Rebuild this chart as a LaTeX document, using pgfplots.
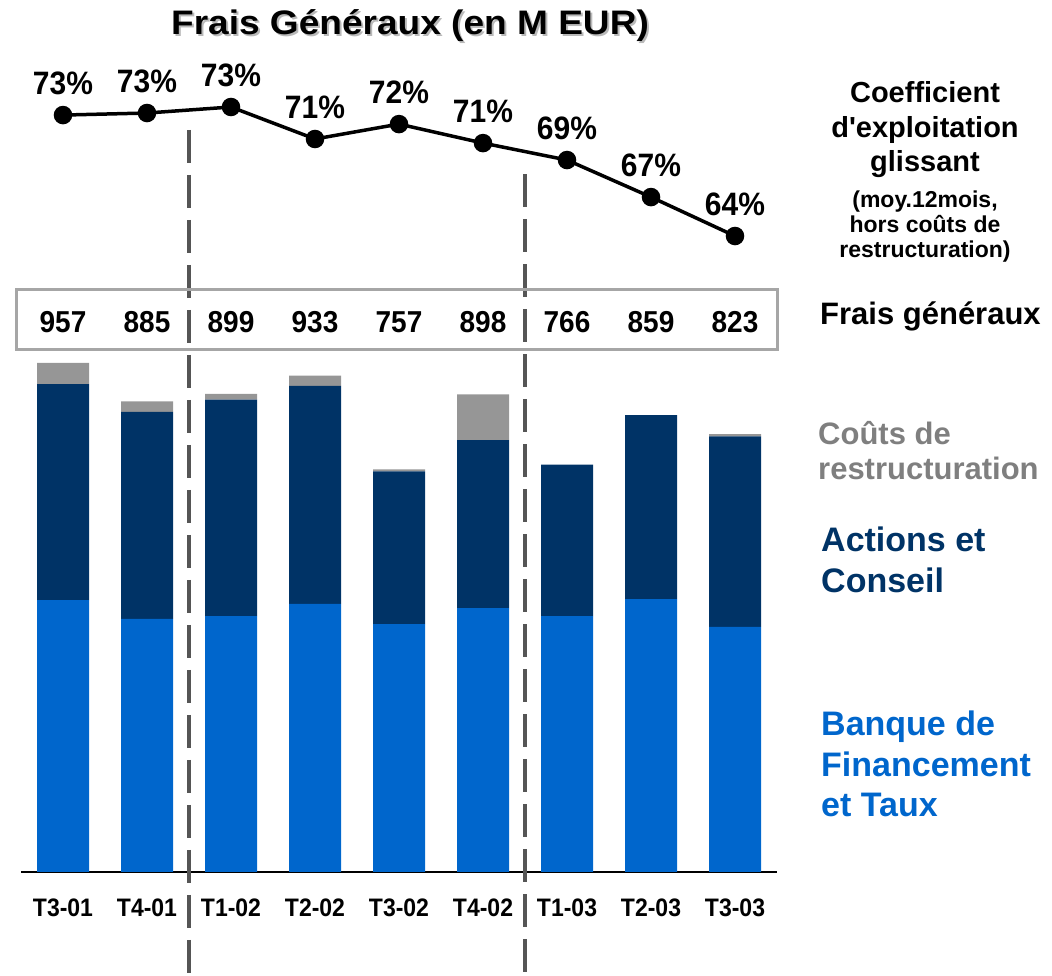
\documentclass[border=0pt]{standalone}
\usepackage{pgfplots}
\pgfplotsset{compat=1.18}
\usepackage{fontspec}
\setmainfont{Liberation Sans}[Ligatures=TeXOff]
\definecolor{cLight}{HTML}{0066CC}
\definecolor{cDark}{HTML}{003366}
\definecolor{cGrey}{HTML}{969696}
\definecolor{cText}{HTML}{7F7F7F}
\definecolor{cDash}{HTML}{555555}
\definecolor{cBox}{HTML}{A6A6A6}
\newcommand\fs[2]{\fontsize{#1}{#2}\selectfont\bfseries}
\begin{document}
\begin{tikzpicture}[x=1pt,y=1pt]
\useasboundingbox (0,0) rectangle (1052,976);
\begin{axis}[
  at={(21pt,104pt)}, anchor=south west, scale only axis,
  width=756pt, height=531.9pt,
  xmin=-0.5, xmax=8.5, ymin=0, ymax=1000,
  ybar stacked, bar width=52pt,
  axis x line*=bottom, axis y line=none,
  x axis line style={black, line width=1.2pt, -},
  xtick={0,1,2,3,4,5,6,7,8},
  xticklabels={T3-01,T4-01,T1-02,T2-02,T3-02,T4-02,T1-03,T2-03,T3-03},
  major tick length=0pt,
  xticklabel style={font=\fs{23}{27}, inner sep=0pt, anchor=north, yshift=-27pt, yscale=1.1},
  clip=false,
]
\addplot[fill=cLight, draw=none] coordinates {(0,511) (1,476) (2,481) (3,504) (4,466) (5,496) (6,481) (7,513) (8,461)};
\addplot[fill=cDark, draw=none] coordinates {(0,406) (1,389) (2,407) (3,410) (4,287) (5,316) (6,285) (7,346) (8,358)};
\addplot[fill=cGrey, draw=none] coordinates {(0,40) (1,20) (2,11) (3,19) (4,4) (5,86) (6,0) (7,0) (8,4)};
\foreach \i/\v in {0/957,1/885,2/899,3/933,4/757,5/898,6/766,7/859,8/823}{
  \edef\tmp{\noexpand\node[font=\noexpand\fs{28}{32}, yscale=1.08] at (axis cs:\i,1034) {\v};}\tmp
}
\draw[cDash, line width=3.5pt, dash pattern=on 33pt off 12pt] (axis cs:1.5,1395) -- (axis cs:1.5,-196);
\draw[cDash, line width=3.5pt, dash pattern=on 33pt off 12pt] (axis cs:5.5,1312) -- (axis cs:5.5,-196);
\end{axis}
\draw[cBox, line width=3pt] (16,626) rectangle (777,686);
\begin{axis}[
  at={(21pt,685.3pt)}, anchor=south west, scale only axis,
  width=756pt, height=205pt,
  xmin=-0.5, xmax=8.5, ymin=60, ymax=75,
  axis lines=none, clip=false,
]
\addplot[black, line width=3.5pt, mark=*, mark size=7.5pt, mark options={fill=black},
  nodes near coords, point meta=explicit symbolic,
  every node near coord/.style={font=\fs{30}{33}, anchor=south, inner sep=0pt, yshift=18pt, yscale=1.08}]
  coordinates {(0,72.85)[73\%] (1,73.0)[73\%] (2,73.44)[73\%] (3,71.10)[71\%] (4,72.19)[72\%] (5,70.80)[71\%] (6,69.56)[69\%] (7,66.85)[67\%] (8,64.0)[64\%]};
\end{axis}
% title
\node[anchor=base, font=\fs{34}{38}, text=gray!55, xscale=1.09] at (412,939) {Frais Généraux (en M EUR)};
\node[anchor=base, font=\fs{34}{38}, xscale=1.09] at (410,941) {Frais Généraux (en M EUR)};
% right labels
\node[anchor=base, font=\fs{29}{33}] at (925,873) {Coefficient};
\node[anchor=base, font=\fs{29}{33}] at (925,838) {d'exploitation};
\node[anchor=base, font=\fs{29}{33}] at (925,804) {glissant};
\node[anchor=base, font=\fs{23}{26}] at (925,768) {(moy.12mois,};
\node[anchor=base, font=\fs{23}{26}] at (925,743) {hors coûts de};
\node[anchor=base, font=\fs{23}{26}] at (925,718) {restructuration)};
\node[anchor=base west, inner sep=0pt, font=\fs{31}{34}] at (820,651) {Frais généraux};
\node[anchor=base west, inner sep=0pt, font=\fs{31}{34}, text=cText] at (818,531) {Coûts de};
\node[anchor=base west, inner sep=0pt, font=\fs{31}{34}, text=cText] at (818,496) {restructuration};
\node[anchor=base west, inner sep=0pt, font=\fs{34}{41}, text=cDark] at (821,424) {Actions et};
\node[anchor=base west, inner sep=0pt, font=\fs{34}{41}, text=cDark] at (821,383) {Conseil};
\node[anchor=base west, inner sep=0pt, font=\fs{34}{41}, text=cLight] at (821,240) {Banque de};
\node[anchor=base west, inner sep=0pt, font=\fs{34}{41}, text=cLight] at (821,199) {Financement};
\node[anchor=base west, inner sep=0pt, font=\fs{34}{41}, text=cLight] at (821,159) {et Taux};
\end{tikzpicture}
\end{document}
